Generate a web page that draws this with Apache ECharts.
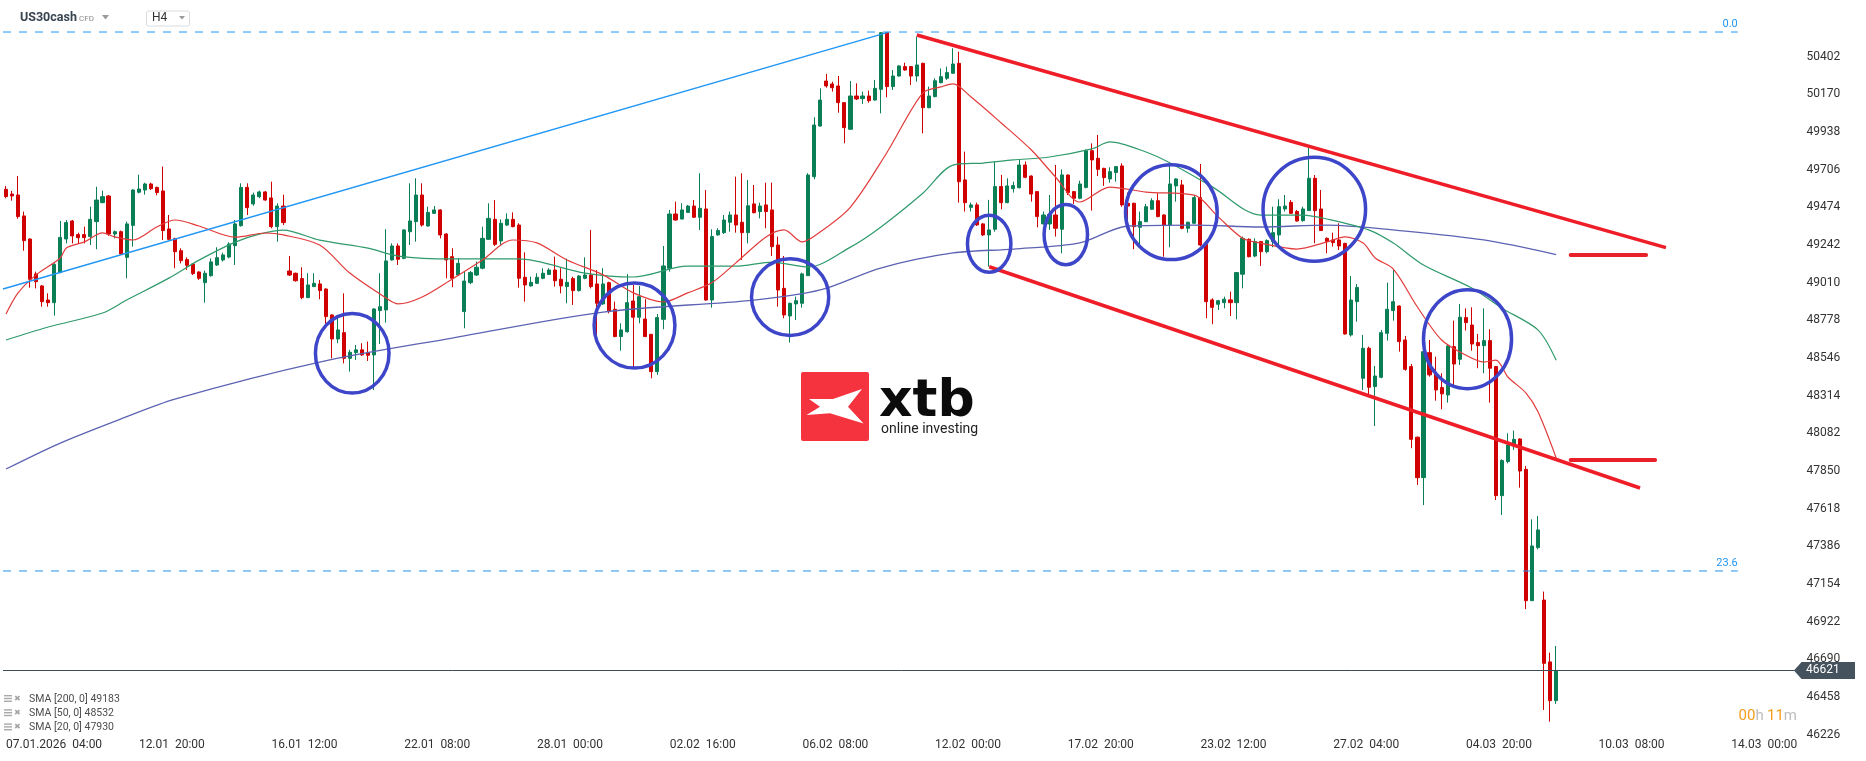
<!DOCTYPE html>
<html><head><meta charset="utf-8">
<script src="https://cdn.jsdelivr.net/npm/echarts@6.0.0/dist/echarts.min.js"></script>
<style>html,body{margin:0;padding:0;background:#fff;}#c{width:1866px;height:761px;}</style>
</head><body><div id="c"></div>
<script>
// ---- data: H4 candles [open, close, low, high] ----
const candles = [
[49585,49540,49530,49606],[49556,49544,49515,49575],[49550,49417,49404,49667],[49421,49269,49207,49448],[49279,49031,48979,49283],
[49064,49016,48975,49078],[48990,48893,48862,48996],[48903,48887,48862,48944],[48887,49123,48807,49129],[49074,49289,49068,49390],
[49279,49380,49252,49396],[49390,49298,49252,49396],[49306,49287,49252,49318],[49306,49287,49252,49355],[49294,49400,49242,49478],
[49386,49519,49216,49601],[49503,49540,49499,49577],[49544,49310,49298,49550],[49310,49324,49283,49331],[49324,49187,49181,49331],
[49166,49372,49037,49386],[49363,49581,49232,49585],[49567,49587,49560,49675],[49581,49618,49552,49626],[49618,49589,49581,49626],
[49597,49565,49548,49601],[49575,49331,49273,49725],[49341,49277,49273,49427],[49281,49201,49099,49287],[49207,49146,49129,49222],
[49152,49117,49088,49166],[49125,49066,49057,49129],[49076,49037,49027,49080],[49010,49068,48887,49084],[49053,49138,49047,49160],
[49119,49164,49113,49228],[49150,49181,49140,49195],[49168,49248,49160,49259],[49238,49372,49119,49396],[49361,49597,49355,49622],
[49597,49472,49427,49622],[49495,49550,49484,49565],[49540,49569,49530,49577],[49569,49519,49515,49575],[49532,49355,49345,49632],
[49355,49482,49263,49499],[49482,49380,49365,49552],[49082,49057,49051,49174],[49068,49022,49016,49072],[49035,48918,48908,49105],
[48918,48996,48914,49068],[48986,49006,48982,49068],[49002,48961,48908,49027],[48971,48801,48756,48975],[48811,48663,48544,48815],
[48663,48719,48637,48801],[48702,48544,48513,48944],[48544,48581,48462,48596],[48579,48596,48534,48626],[48596,48565,48559,48637],
[48579,48563,48528,48647],[48565,48848,48349,48852],[48838,48862,48632,49068],[48842,49144,48764,49339],[49150,49236,49146,49252],
[49236,49154,49119,49252],[49160,49335,49154,49339],[49324,49390,49242,49622],[49386,49550,49263,49653],[49550,49365,49355,49622],
[49359,49443,49355,49478],[49437,49458,49433,49482],[49458,49304,49283,49462],[49310,49150,49037,49314],[49170,49037,48982,49222],
[49057,49129,49051,49160],[48832,49020,48729,49082],[49010,49072,49000,49082],[49057,49105,49051,49140],[49099,49283,49092,49355],
[49277,49406,49273,49499],[49400,49246,49236,49519],[49267,49376,49242,49400],[49365,49400,49359,49437],[49400,49355,49351,49443],
[49365,49037,48979,49376],[49043,48996,48893,49197],[48990,49012,48986,49047],[49006,49043,49002,49068],[49037,49068,49031,49099],
[49061,49088,49057,49099],[49088,49022,48986,49170],[49031,48990,48944,49099],[48986,49012,48883,49158],[49035,48961,48873,49047],
[48961,49051,48955,49057],[49037,49057,49031,49166],[49057,48986,48975,49335],[49002,48883,48637,49088],[48879,49002,48873,49099],
[49010,48832,48821,49016],[48846,48678,48674,48893],[48678,48719,48591,48760],[48708,48887,48702,49064],[48897,48797,48489,48996],
[48797,48924,48760,48990],[48786,48678,48674,48908],[48692,48462,48421,48692],[48462,48795,48442,48817],[48784,49113,48723,49236],
[49099,49433,49078,49458],[49433,49396,49392,49509],[49402,49458,49400,49499],[49443,49482,49441,49489],[49482,49413,49408,49519],
[49413,49468,49335,49684],[49464,48903,48899,49581],[48903,49294,48856,49339],[49304,49331,49300,49345],[49318,49396,49310,49427],
[49382,49427,49324,49448],[49427,49365,49318,49663],[49382,49318,49150,49684],[49318,49484,49252,49643],[49495,49441,49437,49612],
[49448,49482,49406,49503],[49489,49448,49345,49626],[49458,49232,49174,49626],[49242,48965,48862,49294],[48975,48811,48791,49174],
[48805,48883,48641,48887],[48879,48899,48780,48924],[48883,49064,48856,49072],[49053,49673,49053,49684],[49663,49981,49647,50029],
[49975,50135,49971,50207],[50252,50222,50211,50296],[50234,50211,50187,50248],[50222,50119,50057,50283],[50119,49965,49869,50123],
[49955,50160,49951,50252],[50160,50142,50135,50238],[50144,50160,50111,50187],[50160,50131,50119,50193],[50135,50207,50131,50259],
[50201,50550,50053,50554],[50550,50218,50152,50554],[50218,50283,50197,50320],[50283,50345,50279,50349],[50341,50320,50316,50365],
[50341,50283,50228,50345],[50283,50351,50248,50525],[50361,50088,49930,50365],[50088,50160,50084,50218],[50156,50254,50152,50269],
[50242,50279,50238,50330],[50269,50304,50259,50341],[50300,50357,50296,50454],[50361,49632,49503,50433],[49643,49503,49448,49817],
[49474,49489,49448,49503],[49489,49366,49359,49503],[49372,49304,49298,49376],[49304,49335,49109,49520],[49339,49602,49324,49756],
[49602,49503,49462,49674],[49503,49606,49499,49653],[49589,49608,49565,49632],[49595,49735,49591,49766],[49735,49659,49653,49756],
[49667,49556,49509,49671],[49571,49417,49351,49575],[49372,49427,49368,49448],[49372,49431,49335,49550],[49427,49345,49294,49735],
[49339,49674,49191,49708],[49673,49565,49550,49677],[49571,49530,49495,49575],[49530,49618,49524,49638],[49597,49823,49591,49831],
[49823,49766,49454,49868],[49776,49708,49667,49920],[49714,49657,49606,49718],[49649,49694,49626,49721],[49688,49725,49632,49729],
[49729,49489,49478,49745],[49499,49482,49355,49565],[49499,49355,49216,49503],[49351,49386,49242,49448],[49386,49478,49382,49495],
[49462,49515,49458,49530],[49515,49417,49413,49560],[49427,49365,49170,49431],[49365,49618,49228,49735],[49606,49649,49509,49653],
[49612,49345,49339,49643],[49345,49382,49318,49386],[49376,49534,49372,49550],[49534,49242,49236,49741],[49246,48893,48791,49250],
[48904,48858,48754,48914],[48877,48899,48842,48904],[48887,48908,48852,48924],[48904,48887,48805,48955],[48887,49072,48784,49076],
[49062,49283,48975,49294],[49277,49170,49166,49283],[49174,49263,49166,49283],[49263,49201,49113,49267],[49201,49269,49191,49277],
[49263,49318,49228,49478],[49304,49478,49228,49524],[49464,49482,49448,49550],[49505,49437,49433,49519],[49448,49390,49386,49458],
[49392,49464,49386,49478],[49454,49653,49454,49844],[49653,49454,49253,49673],[49464,49331,49331,49581],[49283,49263,49191,49289],
[49273,49257,49232,49318],[49273,49236,49211,49376],[49252,48694,48690,49256],[48688,48903,48678,49051],[48893,48981,48770,49002],
[48421,48606,48349,48688],[48606,48366,48308,48616],[48370,48435,48127,48497],[48427,48702,48421,48719],[48698,48846,48653,49010],
[48838,48893,48776,49092],[48866,48647,48585,48870],[48657,48476,48468,48682],[48493,48045,47990,48509],[48058,47809,47764,48062],
[47809,48585,47640,48616],[48579,48442,48431,48657],[48448,48349,48283,48554],[48364,48325,48230,48452],[48318,48620,48271,48632],
[48616,48509,48370,48776],[48538,48797,48503,48879],[48795,48764,48715,48852],[48749,48632,48591,48858],[48641,48622,48483,48694],
[48622,48653,48452,48852],[48653,48483,48271,48723],[48493,47698,47671,48497],[47698,47914,47579,47922],[47908,48010,47897,48082],
[48004,48045,47980,48099],[48047,47850,47747,48051],[47860,47051,46999,47881],[47051,47388,47051,47552],[47378,47487,47367,47573],
[47055,46665,46378,47107],[46674,46435,46306,46731],[46435,46621,46415,46772]
];
// moving averages: [bar, value]
const sma200 = [[0,47862],[9,48022],[19,48170],[28,48293],[52,48521],[74,48669],[99,48829],[124,48903],[135,48965],[145,49100],
  [157,49193],[167,49217],[178,49255],[186,49359],[197,49365],[208,49353],[219,49365],[232,49328],[245,49273],[257,49183]];
const sma50 = [[0,48657],[7,48737],[16,48823],[20,48903],[27,49038],[32,49149],[38,49260],[42,49309],[46,49334],[52,49272],
  [60,49223],[65,49174],[74,49156],[85,49156],[96,49069],[104,49045],[113,49112],[121,49112],[127,49137],[133,49106],
  [140,49229],[145,49352],[152,49561],[157,49734],[162,49747],[167,49766],[173,49784],[180,49834],[183,49877],[189,49815],
  [193,49747],[200,49600],[208,49426],[215,49426],[219,49402],[226,49334],[230,49254],[235,49119],[243,48977],[248,48853],
  [254,48718],[257,48532]];
const sma20 = [[0,48817],[2,48947],[5,49058],[9,49162],[10,49224],[13,49261],[16,49317],[18,49292],[21,49273],[25,49353],
  [28,49396],[32,49359],[38,49291],[43,49316],[46,49304],[52,49242],[57,49069],[63,48916],[65,48879],[69,48922],
  [74,49033],[79,49150],[84,49273],[88,49255],[93,49150],[99,49058],[104,48947],[109,48891],[113,48947],[117,49009],
  [121,49132],[126,49292],[129,49335],[132,49261],[135,49323],[140,49476],[146,49809],[152,50179],[155,50216],[157,50234],
  [160,50154],[165,49994],[170,49827],[174,49661],[178,49507],[183,49599],[189,49568],[197,49549],[201,49414],[205,49284],
  [208,49254],[214,49217],[219,49261],[222,49292],[225,49254],[227,49162],[230,49094],[234,48860],[238,48657],[242,48564],
  [245,48521],[247,48533],[249,48429],[252,48330],[254,48213],[257,47930]];
const smaLegend = [['SMA [200, 0]', 49183], ['SMA [50, 0]', 48532], ['SMA [20, 0]', 47930]];
// axis ticks
const xTickBars = [27.5,49.5,71.5,93.5,115.5,137.5,159.5,181.5,203.5,225.5,247.5,269.5,291.5];
const xTickLabels = ['12.01  20:00','16.01  12:00','22.01  08:00','28.01  00:00','02.02  16:00','06.02  08:00',
  '12.02  00:00','17.02  20:00','23.02  12:00','27.02  04:00','04.03  20:00','10.03  08:00','14.03  00:00'];
const firstXLabel = '07.01.2026  04:00';
const yTicks = [46226,46458,46690,46922,47154,47386,47618,47850,48082,48314,48546,48778,49010,49242,49474,49706,49938,50170,50402];
const lastPrice = 46621;
// drawing annotations in (bar, price)
const fibLevels = [['0.0', 50554], ['23.6', 47234]];
const fibEndBar = 287.1;
const trendUp = [[-0.5, 48971], [146.2, 50552]];
const channelUpper = [[151.0, 50536], [275.2, 49226]];
const channelLower = [[163.0, 49108], [270.9, 47745]];
const levelMarkA = [[259.4, 49180], [271.9, 49180]];
const levelMarkB = [[259.4, 47918], [273.4, 47918]];
// ellipses: [centerBar, centerPrice, halfWidthBars, halfHeightPrice]
const circles = [[57.4,48575,6.1,245],[104.2,48746,6.7,262],[130,48921,6.4,236],[163,49250,3.6,176],
  [175.7,49306,3.6,185],[193.2,49444,7.6,292],[216.9,49462,8.5,320],[242.3,48662,7.3,305]];

const N = 298;
const categories = Array.from({length: N}, (_, i) => String(i));
const FONT = 'Roboto';
const GREEN = '#0a7f56', RED = '#d10000';

const chart = echarts.init(document.getElementById('c'), null, {renderer: 'canvas', width: 1866, height: 761});

function lineSeries(data, color, width, extra) {
  return Object.assign({type: 'line', xAxisIndex: 1, yAxisIndex: 0, data: data, symbol: 'none', showSymbol: false,
    silent: true, lineStyle: {color: color, width: width}, z: 5}, extra || {});
}

const option = {
  animation: false,
  backgroundColor: '#ffffff',
  grid: {left: 2.98, top: 0, width: 1797.5, height: 734.6},
  xAxis: [
    {type: 'category', position: 'bottom', data: categories, boundaryGap: true, axisLine: {show: false}, axisTick: {show: false},
      axisLabel: {show: false}, splitLine: {show: false}},
    {type: 'value', position: 'bottom', offset: 0, min: -0.5, max: N - 0.5, axisLine: {show: false, onZero: false}, axisTick: {show: false}, splitLine: {show: false},
      axisLabel: {customValues: xTickBars, color: '#333', fontSize: 12, fontFamily: FONT, margin: 4,
        formatter: function (v) { const k = xTickBars.findIndex(t => Math.abs(t - v) < 0.01); return k >= 0 ? xTickLabels[k] : ''; }}}
  ],
  yAxis: {type: 'value', position: 'right', min: 46226, max: 50751.3, axisLine: {show: false}, axisTick: {show: false},
    splitLine: {show: false},
    axisLabel: {customValues: yTicks, margin: 6, color: '#333', fontSize: 12, fontFamily: FONT, align: 'left',
      formatter: function (v) { const r = Math.round(v); return yTicks.indexOf(r) >= 0 ? String(r) : ''; }}},
  series: [
    {type: 'candlestick', xAxisIndex: 0, yAxisIndex: 0, data: candles, barWidth: 3.6, silent: true, z: 3,
      itemStyle: {color: GREEN, color0: RED, borderColor: GREEN, borderColor0: RED, borderWidth: 1},
      markLine: {silent: true, symbol: ['none', 'none'], label: {show: false},
        lineStyle: {color: '#3e4b56', width: 1, type: 'solid'}, data: [{yAxis: lastPrice}]}},
    lineSeries(sma200, '#5d63b3', 1.3, {smooth: 0.3}),
    lineSeries(sma50, '#2f9a6c', 1.2, {smooth: 0.3}),
    lineSeries(sma20, '#e23b3b', 1.2, {smooth: 0.3}),
    lineSeries([[-0.5, fibLevels[0][1]], [fibEndBar, fibLevels[0][1]]], '#2196f3', 1, {lineStyle: {color: '#2196f3', width: 1, type: [8, 8]}}),
    lineSeries([[-0.5, fibLevels[1][1]], [fibEndBar, fibLevels[1][1]]], '#2196f3', 1, {lineStyle: {color: '#2196f3', width: 1, type: [8, 8]}}),
    lineSeries(trendUp, '#2196f3', 1.5),
    lineSeries(channelUpper, '#ee1d27', 3.5, {z: 6}),
    lineSeries(channelLower, '#ee1d27', 3.5, {z: 6}),
    lineSeries(levelMarkA, '#e8202a', 4, {z: 6, lineStyle: {color: '#e8202a', width: 4, cap: 'round'}}),
    lineSeries(levelMarkB, '#e8202a', 4, {z: 6, lineStyle: {color: '#e8202a', width: 4, cap: 'round'}}),
    {type: 'custom', xAxisIndex: 1, yAxisIndex: 0, data: circles, silent: true, z: 7, clip: false,
      encode: {x: 0, y: 1},
      renderItem: function (params, api) {
        const c = api.coord([api.value(0), api.value(1)]);
        const s = api.size([api.value(2), api.value(3)]);
        return {type: 'ellipse', shape: {cx: c[0], cy: c[1], rx: s[0], ry: s[1]},
          style: {fill: null, stroke: '#3d46c9', lineWidth: 3.5}};
      }}
  ]
};
chart.setOption(option);

// ---- overlay texts / decorations ----
const g = [];
// header
g.push({type: 'text', left: 20, top: 11, style: {text: 'US30cash', font: 'bold 12.5px Roboto', fill: '#37434e'}});
g.push({type: 'text', left: 79, top: 15, style: {text: 'CFD', font: '8px Roboto', fill: '#8b8b8b'}});
g.push({type: 'polygon', shape: {points: [[102, 15], [109, 15], [105.5, 19.5]]}, style: {fill: '#9a9a9a'}});
g.push({type: 'rect', shape: {x: 146.5, y: 11, width: 43, height: 15, r: 2}, style: {fill: '#fff', stroke: '#dcdcdc', lineWidth: 1}});
g.push({type: 'text', left: 152, top: 12, style: {text: 'H4', font: '12px Roboto', fill: '#333'}});
g.push({type: 'polygon', shape: {points: [[179, 16], [185, 16], [182, 19.5]]}, style: {fill: '#9a9a9a'}});
// legend
smaLegend.forEach(function (row, k) {
  const y = 699 + k * 14.2;
  g.push({type: 'rect', shape: {x: 4, y: y - 4, width: 8, height: 1.4}, style: {fill: '#a9a9a9'}});
  g.push({type: 'rect', shape: {x: 4, y: y - 1.2, width: 8, height: 1.4}, style: {fill: '#a9a9a9'}});
  g.push({type: 'rect', shape: {x: 4, y: y + 1.6, width: 8, height: 1.4}, style: {fill: '#a9a9a9'}});
  g.push({type: 'text', x: 14, y: y, style: {text: '\u2716', font: '8px DejaVu Sans', fill: '#a5a5a5', verticalAlign: 'middle'}});
  g.push({type: 'text', x: 29, y: y, style: {text: row[0] + ' ' + row[1], font: '10.5px Roboto', fill: '#4d4d4d', verticalAlign: 'middle'}});
});
// first x label
g.push({type: 'text', x: 6, y: 745, style: {text: firstXLabel, font: '12px Roboto', fill: '#333', verticalAlign: 'middle', align: 'left'}});
// timer
g.push({type: 'text', x: 1797, y: 716, style: {text: '{o|00}{h|h} {o|11}{h|m}', align: 'right', verticalAlign: 'middle',
  rich: {o: {font: '15px Roboto', fill: '#f59c1e'}, h: {font: '15px Roboto', fill: '#bdbdbd'}}}});
// logo
g.push({type: 'rect', shape: {x: 801, y: 372, width: 68, height: 69, r: 2}, style: {fill: '#f4333e'}});
g.push({type: 'polygon', shape: {points: [[809, 399], [833, 399], [862, 389], [848, 406.7], [863.5, 423.5], [830, 413.3], [806.5, 415], [820, 406.7]]},
  style: {fill: '#ffffff'}});
g.push({type: 'text', x: 879, y: 402, style: {text: 'xtb', font: 'bold 52px "DejaVu Sans"', fill: '#0c0c0c', verticalAlign: 'middle'}});
g.push({type: 'text', x: 881, y: 429, style: {text: 'online investing', font: '14px Roboto', fill: '#222', verticalAlign: 'middle'}});
// fib labels
fibLevels.forEach(function (f) {
  const p = chart.convertToPixel({xAxisIndex: 1, yAxisIndex: 0}, [fibEndBar, f[1]]);
  g.push({type: 'text', x: p[0], y: p[1] - 8, style: {text: f[0], font: '11px Roboto', fill: '#2196f3', align: 'right', verticalAlign: 'middle'}});
});
// last price tag
const py = chart.convertToPixel({yAxisIndex: 0}, lastPrice);
g.push({type: 'polygon', shape: {points: [[1794, py], [1801.5, py - 8.5], [1855, py - 8.5], [1855, py + 8.5], [1801.5, py + 8.5]]},
  style: {fill: '#45535f'}, z: 10});
g.push({type: 'text', x: 1806, y: py, z: 11, style: {text: String(lastPrice), font: '12px Roboto', fill: '#ffffff', verticalAlign: 'middle'}});
chart.setOption({graphic: g});
</script>
</body></html>
